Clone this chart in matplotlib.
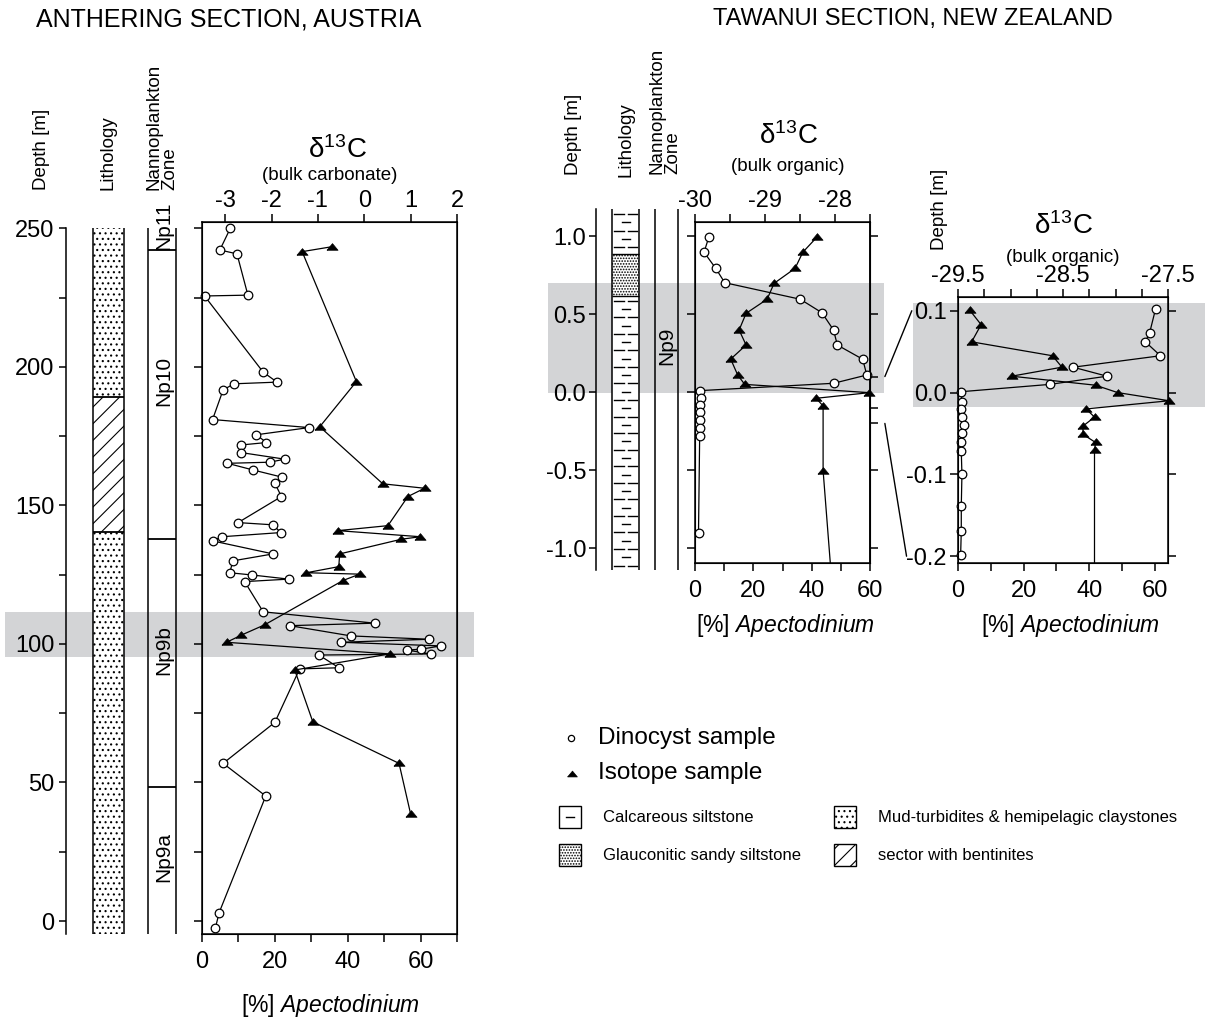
import numpy as np
import matplotlib
matplotlib.use("Agg")
import matplotlib.pyplot as plt
import matplotlib.transforms as mtransforms
from matplotlib.patches import Rectangle, ConnectionPatch
from matplotlib.ticker import MultipleLocator, FixedLocator, FormatStrFormatter, NullFormatter

plt.rcParams["font.family"] = ["Liberation Sans", "DejaVu Sans"]
plt.rcParams["axes.unicode_minus"] = False
plt.rcParams["mathtext.fontset"] = "custom"
plt.rcParams["mathtext.rm"] = "Liberation Sans"
plt.rcParams["mathtext.it"] = "Liberation Sans:italic"
plt.rcParams["hatch.linewidth"] = 0.8

# ---------------- data ----------------
# Anthering section, Austria (depth in m)
anth_dino_depth = [250.1, 242.2, 240.8, 225.9, 225.6, 198.1, 194.5, 193.9, 191.7, 181.0,
                   178.1, 175.5, 172.7, 171.8, 169.1, 166.7, 165.6, 165.2, 162.8, 160.2,
                   158.0, 153.2, 143.8, 143.0, 140.2, 138.7, 137.2, 132.5, 130.0, 125.7,
                   124.9, 123.4, 122.5, 111.6, 107.5, 106.6, 102.9, 101.7, 100.6, 99.3,
                   98.1, 97.8, 96.4, 96.0, 91.4, 91.0, 71.7, 56.9, 45.1, 3.0, -2.4]
anth_dino_pct = [7.8, 4.9, 9.6, 12.6, 0.7, 16.8, 20.6, 8.8, 5.8, 2.9,
                 29.4, 14.9, 17.7, 10.6, 10.6, 22.7, 18.6, 7.0, 14.0, 22.0,
                 20.0, 21.8, 9.9, 19.5, 21.6, 5.5, 2.9, 19.5, 8.5, 7.6,
                 13.7, 23.8, 11.7, 16.8, 47.4, 24.1, 40.9, 62.4, 38.1, 65.6,
                 60.1, 56.2, 62.8, 32.1, 37.6, 26.8, 20.0, 5.8, 17.5, 4.7, 3.7]
anth_iso_depth = [243.4, 241.6, 194.7, 178.4, 157.8, 156.2, 153.2, 142.7, 140.9, 138.7,
                  137.8, 132.5, 127.9, 125.7, 125.2, 122.9, 106.9, 103.2, 100.6, 96.4,
                  90.6, 71.9, 56.9, 38.6]
anth_iso_d13c = [-0.69, -1.34, -0.17, -0.96, 0.40, 1.30, 0.94, 0.51, -0.57, 1.21,
                 0.80, -0.53, -0.55, -1.25, -0.10, -0.46, -2.15, -2.65, -2.97, 0.55,
                 -1.50, -1.11, 0.75, 1.00]
anth_lith = [("mud", -4.7, 140.5), ("bentonite", 140.5, 189.1), ("mud", 189.1, 250.0)]
anth_zone_bounds = [48.4, 137.8, 242.3]
anth_zone_labels = ["Np11", "Np10", "Np9b", "Np9a"]
anth_zone_label_depth = [251.0, 195.0, 97.8, 23.0]
anth_band = (95.3, 111.6)

# Tawanui section, New Zealand (depth in m)
taw_dino_depth = [0.996, 0.896, 0.793, 0.701, 0.595, 0.509, 0.398, 0.302, 0.211, 0.110,
                  0.057, 0.010, -0.035, -0.082, -0.129, -0.178, -0.231, -0.280, -0.899]
taw_dino_pct = [4.8, 3.1, 7.1, 10.2, 36.1, 43.5, 47.5, 48.8, 57.5, 58.9,
                47.5, 1.7, 2.2, 1.6, 1.6, 1.6, 1.6, 1.6, 1.2]
taw_iso_depth = [0.992, 0.896, 0.793, 0.697, 0.595, 0.505, 0.398, 0.302, 0.212, 0.110,
                 0.050, -0.003, -0.039, -0.088, -0.502, -1.25]
taw_iso_d13c = [-28.26, -28.46, -28.57, -28.87, -28.97, -29.27, -29.37, -29.27, -29.49, -29.39,
                -29.29, -27.51, -28.27, -28.17, -28.17, -28.04]
taw_lith = [("calc", -1.14, 0.616), ("glauc", 0.616, 0.885), ("calc", 0.885, 1.17)]
taw_band = (-0.005, 0.70)

# Tawanui, expanded interval
zoom_dino_depth = [0.102, 0.073, 0.062, 0.045, 0.031, 0.020, 0.010, 0.001, -0.011, -0.020,
                   -0.030, -0.040, -0.050, -0.061, -0.072, -0.100, -0.139, -0.169, -0.199]
zoom_dino_pct = [60.2, 58.4, 57.1, 61.7, 35.1, 45.4, 28.0, 0.8, 1.3, 1.0,
                 1.2, 1.8, 1.3, 1.0, 1.0, 1.2, 1.0, 1.0, 0.8]
zoom_iso_depth = [0.101, 0.083, 0.062, 0.045, 0.031, 0.020, 0.009, 0.000, -0.010, -0.020,
                  -0.030, -0.041, -0.051, -0.061, -0.070, -0.25]
zoom_iso_d13c = [-29.39, -29.28, -29.37, -28.60, -28.51, -28.99, -28.19, -27.98, -27.49, -28.28,
                 -28.20, -28.31, -28.31, -28.19, -28.20, -28.20]
zoom_band = (-0.018, 0.1095)
zoom_link = [0.1, -0.2]

# ---------------- figure ----------------
W, H = 1206, 1022
fig = plt.figure(figsize=(W / 100, H / 100), dpi=100)

TRI = [(-1, -0.5), (1, -0.5), (0, 0.7), (-1, -0.5)]
TICK = dict(direction="out", length=6, width=1.1, labelsize=17)
D13C = r"$\mathrm{\delta^{13}C}$"
APEC = r"[%] $\mathit{Apectodinium}$"


def px_axes(x0, y0, x1, y1):
    return fig.add_axes([x0 / W, 1 - y1 / H, (x1 - x0) / W, (y1 - y0) / H])


def ftext(x, y, s, **kw):
    fig.text(x / W, 1 - y / H, s, **kw)


def bare(ax):
    ax.set_facecolor("none")
    for s in ax.spines.values():
        s.set_visible(False)
    ax.set_xticks([])
    ax.set_yticks([])


def series(ax, x, y, kind):
    x = np.asarray(x)
    y = np.asarray(y)
    ax.plot(x, y, color="k", lw=0.9, zorder=3)
    lo, hi = ax.get_ylim()
    keep = (y >= min(lo, hi)) & (y <= max(lo, hi))
    if kind == "dino":
        ax.plot(x[keep], y[keep], ls="none", marker="o", ms=6.2, mfc="white",
                mec="k", mew=0.9, zorder=5, clip_on=False)
    else:
        ax.plot(x[keep], y[keep], ls="none", marker=TRI, ms=8, mfc="k",
                mec="k", mew=0.5, zorder=4, clip_on=False)


def data_panel(ax, xlim, ylim):
    ax.set_facecolor("none")
    ax.set_xlim(*xlim)
    ax.set_ylim(*ylim)
    for s in ax.spines.values():
        s.set_linewidth(1.1)
    ax.xaxis.set_major_locator(MultipleLocator(20))
    ax.xaxis.set_minor_locator(MultipleLocator(10))
    ax.tick_params(axis="x", which="both", pad=6, **TICK)
    ax.tick_params(axis="y", which="both", **TICK)
    top = ax.twiny()
    top.set_facecolor("none")
    top.tick_params(axis="x", which="both", pad=1.5, **TICK)
    return top


# ======== Anthering section ========
ylimL = (-4.69, 252.3)
axLb = px_axes(0, 222, 475, 934)
bare(axLb)
axLb.set_xlim(0, 475)
axLb.set_ylim(*ylimL)
axLb.add_patch(Rectangle((5, anth_band[0]), 469, anth_band[1] - anth_band[0],
                         fc="#d3d4d6", ec="none", zorder=0))
# depth axis
axLb.spines["left"].set_visible(True)
axLb.spines["left"].set_position(("data", 66))
axLb.spines["left"].set_bounds(ylimL[0], 250)
axLb.spines["left"].set_linewidth(1.1)
axLb.yaxis.set_major_locator(MultipleLocator(50))
axLb.yaxis.set_minor_locator(MultipleLocator(25))
axLb.tick_params(axis="y", which="both", direction="out", length=5, width=1.1, labelsize=17)
# lithology
hatches = {"mud": "...", "bentonite": "//"}
for kind, d0, d1 in anth_lith:
    axLb.add_patch(Rectangle((93, d0), 31, d1 - d0, fc="white", ec="k", lw=0,
                             hatch=hatches[kind], zorder=1))
axLb.vlines([93, 124], ylimL[0], 250, color="k", lw=1.1, zorder=2)
axLb.hlines([140.5, 189.1], 93, 124, color="k", lw=1.3, zorder=2)
# nannoplankton zones
axLb.vlines([148, 176], ylimL[0], 250, color="k", lw=1.1, zorder=2)
axLb.hlines(anth_zone_bounds, 148, 176, color="k", lw=1.3, zorder=2)
for lab, d in zip(anth_zone_labels, anth_zone_label_depth):
    axLb.text(164, d, lab, rotation=90, ha="center", va="center", fontsize=15, zorder=3)

axL = px_axes(202, 222, 457, 934)
axL_top = data_panel(axL, (0, 70), ylimL)
axL.yaxis.set_major_locator(MultipleLocator(25))
axL.yaxis.set_major_formatter(NullFormatter())
axL_top.set_xlim(-3.5, 2)
axL_top.xaxis.set_major_locator(FixedLocator([-3, -2, -1, 0, 1, 2]))
series(axL, anth_dino_pct, anth_dino_depth, "dino")
series(axL_top, anth_iso_d13c, anth_iso_depth, "iso")

ftext(229, 19, "ANTHERING SECTION, AUSTRIA", fontsize=18, ha="center", va="center")
ftext(41, 190, "Depth [m]", rotation=90, fontsize=13.5, ha="center", va="bottom")
ftext(108, 190, "Lithology", rotation=90, fontsize=13.5, ha="center", va="bottom")
ftext(162, 190, "Nannoplankton\nZone", rotation=90, fontsize=13.5, ha="center",
      va="bottom", multialignment="left", linespacing=0.95)
ftext(337, 150, D13C, fontsize=20, ha="center", va="center")
ftext(330, 176, "(bulk carbonate)", fontsize=13.5, ha="center", va="center")
ftext(330, 1005, APEC, fontsize=16.5, ha="center", va="center")

# ======== Tawanui section ========
ylimMb = (-1.1703, 1.1985)
axMb = px_axes(540, 205, 890, 575)
bare(axMb)
axMb.set_xlim(540, 890)
axMb.set_ylim(*ylimMb)
axMb.add_patch(Rectangle((548, taw_band[0]), 336, taw_band[1] - taw_band[0],
                         fc="#d3d4d6", ec="none", zorder=0))
axMb.spines["left"].set_visible(True)
axMb.spines["left"].set_position(("data", 596))
axMb.spines["left"].set_bounds(-1.14, 1.17)
axMb.spines["left"].set_linewidth(1.1)
axMb.set_yticks([-1.0, -0.5, 0.0, 0.5, 1.0])
axMb.yaxis.set_major_formatter(FormatStrFormatter("%.1f"))
axMb.tick_params(axis="y", direction="out", length=5, width=1.1, labelsize=17, pad=2)
# lithology column
for kind, d0, d1 in taw_lith:
    if kind == "glauc":
        axMb.add_patch(Rectangle((612, d0), 27, d1 - d0, fc="white", ec="k", lw=0,
                                 hatch="......", zorder=2))
        axMb.hlines([d0, d1], 612, 639, color="k", lw=1.0, zorder=2)
    else:
        axMb.add_patch(Rectangle((612, d0), 27, d1 - d0, fc="white", ec="none", zorder=1))
        rows = np.arange(d1 - 0.03, d0, -0.053)
        for i, r in enumerate(rows):
            if i % 2 == 0:
                axMb.plot([614, 624], [r, r], color="k", lw=1.0, zorder=2)
                axMb.plot([628, 637], [r, r], color="k", lw=1.0, zorder=2)
            else:
                axMb.plot([622, 630], [r, r], color="k", lw=1.0, zorder=2)
axMb.vlines([612, 639], -1.14, 1.17, color="k", lw=1.1, zorder=3)
axMb.vlines([655, 678], -1.14, 1.17, color="k", lw=1.1, zorder=3)
axMb.text(667, 0.30, "Np9", rotation=90, ha="center", va="center", fontsize=15, zorder=3)

axM = px_axes(695, 222, 870, 563)
axM_top = data_panel(axM, (0, 60), (-1.0935, 1.0896))
axM.set_yticks([-1.0, -0.5, 0.0, 0.5, 1.0])
axM.yaxis.set_major_formatter(NullFormatter())
axM_right = axM.secondary_yaxis("right")
axM_right.set_yticks([1.0, 0.5, 0.1, -0.1, -0.2, -0.5, -1.0])
axM_right.yaxis.set_major_formatter(NullFormatter())
axM_right.spines["right"].set_linewidth(1.1)
axM_right.tick_params(axis="y", **TICK)
axM_top.set_xlim(-30, -27.5)
axM_top.xaxis.set_major_locator(FixedLocator([-30, -29, -28]))
axM_top.xaxis.set_minor_locator(FixedLocator([-29.5, -28.5, -27.5]))
series(axM, taw_dino_pct, taw_dino_depth, "dino")
series(axM_top, taw_iso_d13c, taw_iso_depth, "iso")

ftext(913, 19, "TAWANUI SECTION, NEW ZEALAND", fontsize=17, ha="center", va="center")
ftext(573, 175, "Depth [m]", rotation=90, fontsize=13.5, ha="center", va="bottom")
ftext(626, 177, "Lithology", rotation=90, fontsize=13.5, ha="center", va="bottom")
ftext(665, 174, "Nannoplankton\nZone", rotation=90, fontsize=13.5, ha="center",
      va="bottom", multialignment="left", linespacing=0.95)
ftext(788, 136, D13C, fontsize=20, ha="center", va="center")
ftext(788, 166, "(bulk organic)", fontsize=13.5, ha="center", va="center")
ftext(785, 625, APEC, fontsize=16.5, ha="center", va="center")

# ======== Tawanui expanded interval ========
ylimR = (-0.2083, 0.1168)
axRb = px_axes(905, 297, 1205, 563)
bare(axRb)
axRb.set_xlim(905, 1205)
axRb.set_ylim(*ylimR)
axRb.add_patch(Rectangle((913, zoom_band[0]), 292, zoom_band[1] - zoom_band[0],
                         fc="#d3d4d6", ec="none", zorder=0))

axR = px_axes(958, 297, 1168, 563)
axR_top = data_panel(axR, (0, 64), ylimR)
axR.set_yticks([0.1, 0.0, -0.1, -0.2])
axR.yaxis.set_major_formatter(FormatStrFormatter("%.1f"))
axR.tick_params(axis="y", right=True, pad=2)
axR_top.set_xlim(-29.5, -27.5)
axR_top.xaxis.set_major_locator(FixedLocator([-29.5, -28.5, -27.5]))
axR_top.xaxis.set_minor_locator(MultipleLocator(0.25))
axR_top.xaxis.set_major_formatter(FormatStrFormatter("%.1f"))
series(axR, zoom_dino_pct, zoom_dino_depth, "dino")
series(axR_top, zoom_iso_d13c, zoom_iso_depth, "iso")

ftext(940, 250, "Depth [m]", rotation=90, fontsize=13.5, ha="center", va="bottom")
ftext(1063, 226, D13C, fontsize=20, ha="center", va="center")
ftext(1063, 258, "(bulk organic)", fontsize=13.5, ha="center", va="center")
ftext(1070, 625, APEC, fontsize=16.5, ha="center", va="center")

# lines linking the expanded interval to the main Tawanui column
tM = mtransforms.blended_transform_factory(axM.transAxes, axM.transData)
tR = mtransforms.blended_transform_factory(axR.transAxes, axR.transData)
for d, xr in zip(zoom_link, [-0.22, -0.245]):
    fig.add_artist(ConnectionPatch(xyA=(1.085, d), coordsA=tM, xyB=(xr, d), coordsB=tR,
                                   color="k", lw=1.0))

# ======== legend ========
axLg = px_axes(540, 720, 1200, 880)
bare(axLg)
axLg.set_xlim(540, 1200)
axLg.set_ylim(880, 720)
axLg.plot(571, 738, ls="none", marker="o", ms=4.5, mfc="white", mec="k", mew=0.9)
axLg.plot(572, 774, ls="none", marker=TRI, ms=7, mfc="k", mec="k", mew=0.5)
axLg.text(598, 738, "Dinocyst sample", fontsize=17.5, va="center")
axLg.text(598, 773, "Isotope sample", fontsize=17.5, va="center")

axLg.add_patch(Rectangle((559, 806), 22, 22, fc="white", ec="k", lw=1.0))
axLg.plot([566, 574], [817, 817], color="k", lw=1.0)
axLg.add_patch(Rectangle((559, 844), 22, 22, fc="white", ec="k", lw=1.0, hatch="......"))
axLg.add_patch(Rectangle((834, 806), 22, 22, fc="white", ec="k", lw=1.0, hatch="..."))
axLg.add_patch(Rectangle((834, 844), 22, 22, fc="white", ec="k", lw=1.0, hatch="//"))
axLg.text(603, 817, "Calcareous siltstone", fontsize=12, va="center")
axLg.text(603, 855, "Glauconitic sandy siltstone", fontsize=12, va="center")
axLg.text(878, 817, "Mud-turbidites & hemipelagic claystones", fontsize=12, va="center")
axLg.text(878, 855, "sector with bentinites", fontsize=12, va="center")

fig.savefig("out.png", dpi=100)
